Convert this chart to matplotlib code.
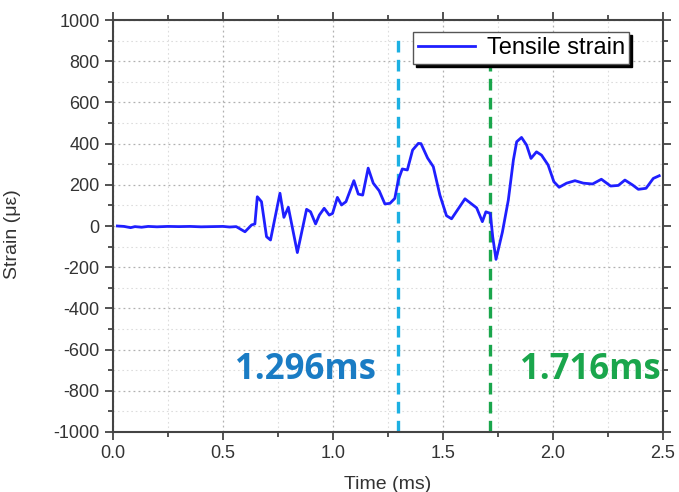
import matplotlib
matplotlib.use("Agg")
import matplotlib.pyplot as plt
import numpy as np
from matplotlib.ticker import MultipleLocator

# strain record
time_ms = [0.02, 0.05, 0.08, 0.10, 0.13, 0.16, 0.20, 0.25, 0.30, 0.35, 0.40, 0.45,
           0.50, 0.53, 0.56, 0.60, 0.63, 0.645, 0.656, 0.675, 0.698, 0.716, 0.759,
           0.777, 0.797, 0.838, 0.88, 0.898, 0.921, 0.938, 0.96, 0.983, 0.998, 1.02,
           1.039, 1.059, 1.095, 1.115, 1.135, 1.16, 1.183, 1.21, 1.236, 1.259, 1.281,
           1.297, 1.315, 1.338, 1.362, 1.388, 1.40, 1.43, 1.456, 1.486, 1.516, 1.539,
           1.60, 1.653, 1.679, 1.695, 1.715, 1.726, 1.741, 1.77, 1.797, 1.82, 1.835,
           1.857, 1.88, 1.90, 1.925, 1.948, 1.978, 2.004, 2.028, 2.062, 2.10, 2.138,
           2.18, 2.22, 2.262, 2.297, 2.327, 2.362, 2.388, 2.423, 2.456, 2.483]
strain = [0, -2, -8, -3, -6, -2, -4, -2, -3, -2, -4, -3,
          -2, -5, -3, -28, 5, 10, 142, 118, -52, -68, 159,
          42, 91, -129, 81, 69, 10, 53, 86, 53, 61, 139,
          102, 118, 220, 155, 150, 281, 208, 171, 107, 110, 134,
          223, 277, 272, 369, 401, 400, 330, 288, 150, 50, 35,
          132, 88, 21, 69, 61, -52, -162, -30, 126, 320, 409,
          430, 393, 328, 360, 344, 296, 215, 188, 208, 220, 208,
          204, 227, 194, 197, 223, 199, 178, 183, 231, 244]

marker_times = [1.296, 1.716]
marker_labels = ["1.296ms", "1.716ms"]
marker_line_colors = ["#1cb0e2", "#1aa64c"]
marker_text_colors = ["#1a7cc4", "#1aa64c"]
marker_text_x = [0.873, 2.17]

plt.rcParams['font.family'] = ['Liberation Sans', 'DejaVu Sans']
plt.rcParams['axes.unicode_minus'] = False

fig = plt.figure(figsize=(6.79, 4.92), dpi=100)
ax = fig.add_axes([0.1664, 0.122, 0.81, 0.8373])

ax.plot(time_ms, strain, color="#1f1fff", lw=2.0, label="Tensile strain", zorder=3)

for t, c in zip(marker_times, marker_line_colors):
    ax.vlines(t, -1000, 920, colors=c, linestyles=(0, (3.5, 2.2)), lw=2.4, zorder=2)

for x, lab, c in zip(marker_text_x, marker_labels, marker_text_colors):
    ax.text(x, -700, lab, color=c, fontsize=25, fontweight="bold",
            family=["Open Sans", "DejaVu Sans"], ha="center", va="center", zorder=4)

ax.set_xlim(0, 2.5)
ax.set_ylim(-1000, 1000)
ax.xaxis.set_major_locator(MultipleLocator(0.5))
ax.xaxis.set_minor_locator(MultipleLocator(0.25))
ax.yaxis.set_major_locator(MultipleLocator(200))
ax.yaxis.set_minor_locator(MultipleLocator(100))
ax.xaxis.set_major_formatter(matplotlib.ticker.FormatStrFormatter("%.1f"))

ax.grid(which="major", color="#b0b0b0", ls=(0, (1.5, 2.5)), lw=0.9)
ax.grid(which="minor", color="#dddddd", ls=(0, (1.5, 2.5)), lw=0.8)
ax.set_axisbelow(True)

for s in ax.spines.values():
    s.set_color("#444444")
    s.set_linewidth(1.5)
ax.tick_params(which="both", direction="out", top=True, right=True, colors="#444444",
               labelcolor="#333333", labelsize=13, width=1.3)
ax.tick_params(which="major", length=6)
ax.tick_params(which="minor", length=3.5)
ax.tick_params(top=True, right=True, labeltop=False, labelright=False)

ax.set_xlabel("Time (ms)", fontsize=14, color="#333333")
ax.set_ylabel("Strain (\u03bc\u03b5)", fontsize=14, color="#333333")
ax.xaxis.set_label_coords(0.5, -0.106)
ax.yaxis.set_label_coords(-0.168, 0.48)

leg = ax.legend(loc="upper right", bbox_to_anchor=(0.939, 0.97), fontsize=17,
                fancybox=False, framealpha=1, edgecolor="#555555",
                shadow={"facecolor": "black", "edgecolor": "black", "alpha": 1},
                handlelength=2.4, borderpad=0.2, handletextpad=0.5, borderaxespad=0)
leg.get_frame().set_linewidth(1.0)
leg.set_zorder(5)

fig.savefig("out.png", dpi=100)
